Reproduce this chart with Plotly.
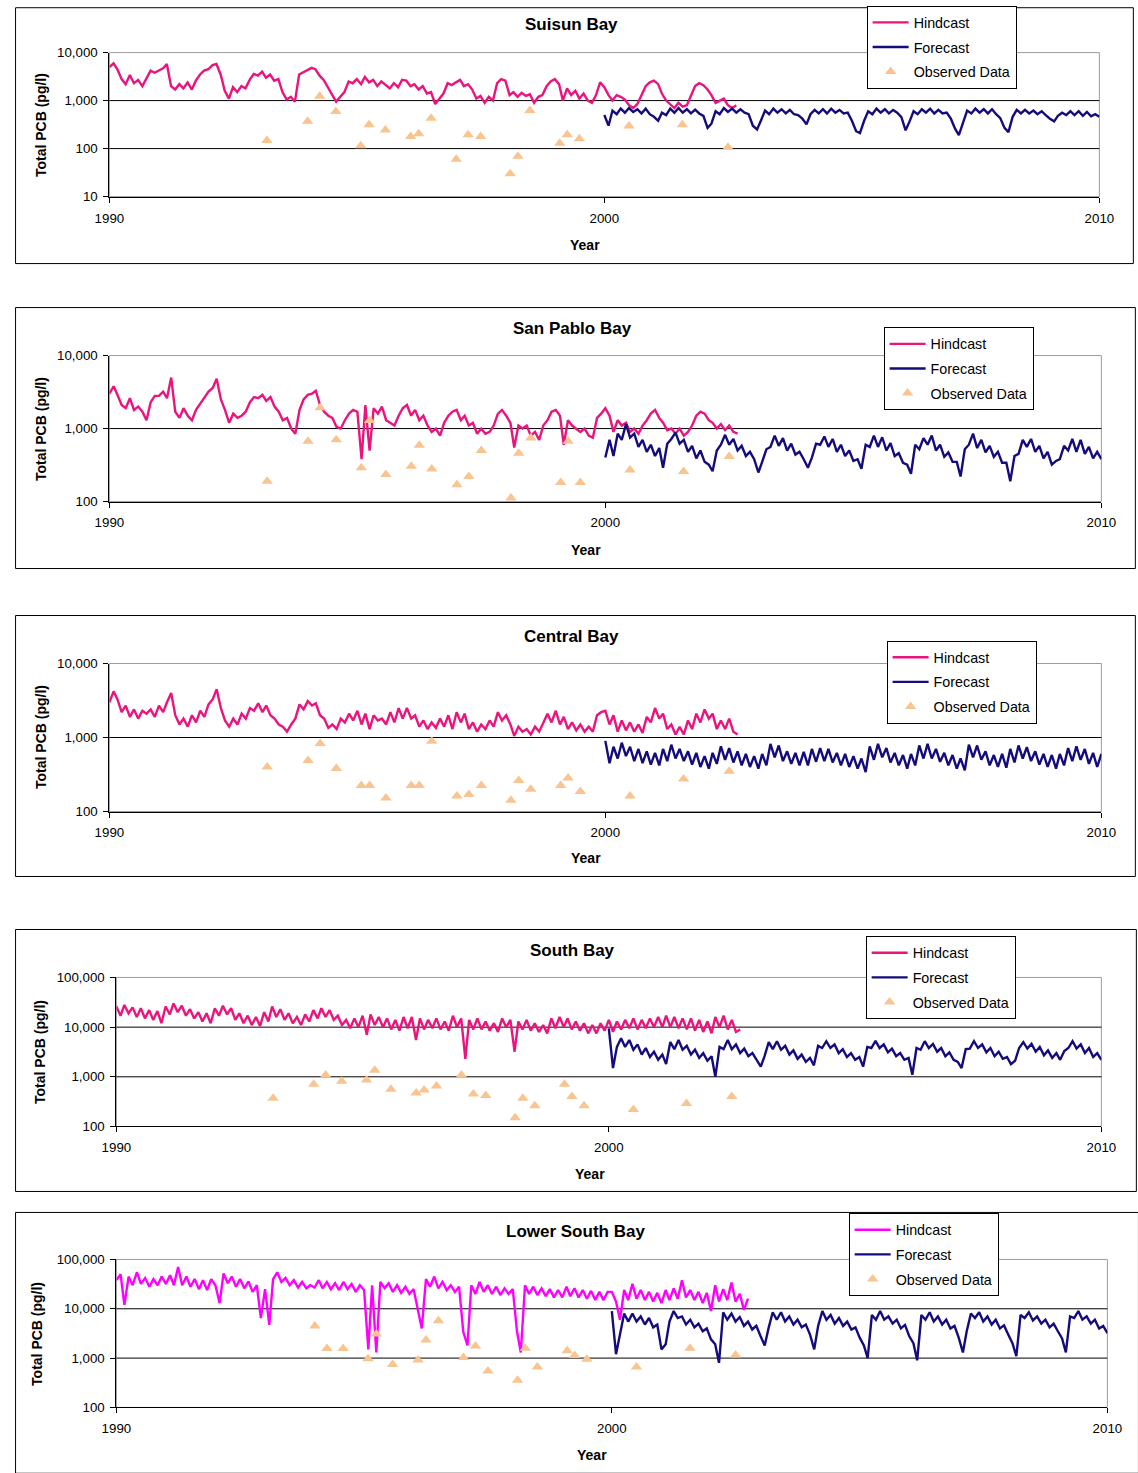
import pandas as pd
import plotly.graph_objects as go

# ------------------------------------------------------------------ data
year_ticks = ["1990", "2000", "2010"]
ytick_vals_low = [10, 100, 1000, 10000]
ytick_text_low = ["10", "100", "1,000", "10,000"]
ytick_vals_mid = [100, 1000, 10000]
ytick_text_mid = ["100", "1,000", "10,000"]
ytick_vals_high = [100, 1000, 10000, 100000]
ytick_text_high = ["100", "1,000", "10,000", "100,000"]

# sampling cruises (observed data)
obs_dates = ["1993-03-08", "1994-01-03", "1994-04-02", "1994-07-30", "1995-01-30",
             "1995-04-01", "1995-07-30", "1996-02-02", "1996-04-01", "1996-07-02",
             "1997-01-03", "1997-04-01", "1997-07-02", "1998-02-05", "1998-04-03",
             "1998-07-01", "1999-02-06", "1999-04-02", "1999-07-01", "2000-07-01",
             "2001-07-30", "2002-07-01"]

# monthly hindcast values (pg/l), starting January 1990
suisun_hindcast = [
    5000, 6000, 4500, 2800, 2200, 3400, 2300, 2700, 2000, 3000, 4200, 3800,
    4200, 4700, 5800, 2000, 1700, 2200, 1800, 2400, 1700, 2600, 3500, 4200,
    4500, 5500, 5800, 3500, 1600, 1100, 1900, 1500, 2000, 1800, 2700, 3600,
    3300, 4000, 3000, 3500, 2600, 2800, 1500, 1050, 1200, 950, 3500, 3900,
    4400, 4800, 4500, 3300, 2700, 1900, 1300, 950, 1200, 1500, 2500, 2300,
    2800, 2200, 3100, 2400, 2700, 2000, 2500, 2100, 1800, 2300, 1900, 2700,
    2600, 2000, 2200, 1700, 2000, 1400, 1500, 850, 1100, 1400, 2300, 2100,
    2400, 2700, 2000, 2200, 1700, 1100, 1250, 900, 1200, 1000, 2300, 2800,
    2600, 1300, 1500, 1200, 1450, 1250, 1350, 900, 1200, 1300, 2000, 2500,
    2800, 2200, 1000, 1800, 1300, 1600, 1100, 1400, 1000, 900, 1300, 2400,
    1900, 1300, 1000, 1300, 1200, 1050, 800, 700, 850, 1300, 2000, 2400,
    2600, 2200, 1400, 1000, 850, 700, 900, 750, 800, 1300, 2000, 2300,
    2100, 1700, 1300, 900, 1000, 1100, 800, 700, 800]
# monthly forecast values (pg/l), January 2000 - January 2010
suisun_forecast = [
    500, 300, 620, 520, 680, 560, 700, 580, 660, 540, 680, 520,
    460, 380, 560, 500, 680, 560, 700, 560, 660, 540, 650, 540,
    480, 270, 330, 600, 520, 700, 580, 680, 560, 660, 560, 520,
    300, 250, 380, 620, 520, 680, 560, 660, 540, 640, 520, 500,
    420, 320, 520, 640, 540, 660, 540, 680, 560, 640, 540, 560,
    380, 230, 210, 380, 600, 520, 680, 560, 660, 540, 640, 560,
    450, 240, 360, 600, 520, 660, 560, 680, 540, 640, 540, 560,
    420, 260, 190, 330, 620, 540, 680, 560, 660, 540, 660, 520,
    430, 270, 220, 460, 640, 540, 640, 540, 620, 520, 600, 500,
    420, 370, 480, 560, 500, 600, 500, 600, 480, 580, 470, 520,
    460]
suisun_observed = [147, 370, 1230, 590, 115, 315, 245, 178, 203, 430, 60, 193,
                   178, 30, 69, 620, 129, 193, 160, 294, 315, 107]

sanpablo_hindcast = [
    3000, 3800, 2900, 2100, 1900, 2600, 1800, 2000, 1700, 1300, 2300, 2800,
    2800, 3200, 2600, 5000, 1700, 1400, 1900, 1500, 1300, 1800, 2200, 2600,
    3200, 3600, 4800, 2500, 1800, 1200, 1600, 1400, 1500, 1700, 2300, 2700,
    2600, 2900, 2400, 2700, 2000, 1700, 1300, 1400, 1000, 850, 1800, 2500,
    2900, 3000, 3300, 2100, 1700, 1500, 1400, 1050, 1000, 1300, 1600, 1800,
    1700, 380, 2100, 500, 1900, 1600, 2000, 1300, 1200, 1100, 1500, 1900,
    2100, 1500, 1800, 1300, 1500, 1100, 900, 1000, 800, 1200, 1500, 1700,
    1800, 1300, 1500, 1100, 1200, 850, 1000, 850, 900, 1100, 1600, 1800,
    1500, 1200, 550, 1100, 1000, 1100, 800, 900, 700, 1100, 1300, 1700,
    1800, 1500, 600, 1300, 1100, 1000, 900, 1000, 800, 750, 1400, 1600,
    1900, 1500, 900, 1300, 1100, 1200, 900, 1000, 850, 1100, 1300, 1600,
    1800, 1400, 1200, 950, 1000, 850, 1000, 800, 900, 1100, 1500, 1700,
    1600, 1300, 1200, 1000, 1150, 950, 1100, 900, 850]
sanpablo_forecast = [
    400, 700, 420, 850, 700, 1150, 750, 850, 560, 700, 480, 600,
    420, 540, 290, 620, 720, 880, 620, 700, 480, 580, 390, 500,
    350, 320, 260, 500, 600, 820, 600, 720, 500, 580, 420, 480,
    380, 250, 350, 520, 560, 800, 580, 740, 500, 620, 440, 480,
    380, 290, 400, 620, 600, 780, 560, 720, 480, 600, 420, 500,
    360, 380, 280, 600, 560, 800, 560, 760, 500, 630, 420, 460,
    340, 320, 240, 600, 520, 740, 600, 800, 500, 600, 410, 470,
    350, 350, 220, 520, 600, 850, 540, 700, 470, 580, 410, 480,
    340, 340, 190, 420, 450, 700, 560, 720, 480, 580, 390, 480,
    320, 360, 380, 580, 500, 720, 480, 700, 450, 560, 390, 480,
    380]
sanpablo_observed = [190, 670, 1920, 700, 290, 1290, 234, 305, 590, 280, 170, 220,
                     500, 112, 460, 740, 183, 670, 183, 270, 257, 415]

central_hindcast = [
    3000, 4200, 3300, 2200, 2700, 1900, 2400, 1800, 2300, 2100, 2400, 1900,
    2700, 2200, 3000, 4000, 2000, 1500, 1800, 1400, 2000, 1600, 2300, 1900,
    2800, 3300, 4500, 2500, 1700, 1400, 1800, 1500, 2100, 1800, 2500, 2300,
    2900, 2200, 2700, 2000, 1800, 1500, 1400, 1200, 1500, 1800, 2800, 2400,
    3100, 2700, 2900, 2000, 1800, 1350, 1500, 1300, 1800, 1600, 2100, 1700,
    2300, 1500, 2100, 1300, 2000, 1700, 1800, 1500, 2200, 1600, 2500, 1800,
    2500, 1800, 2000, 1400, 1700, 1300, 1600, 1350, 1800, 1400, 2000, 1300,
    2200, 1600, 2100, 1300, 1600, 1200, 1500, 1300, 1700, 1400, 2200, 1700,
    2000, 1500, 1050, 1400, 1200, 1300, 1100, 1400, 1200, 1600, 2100, 1600,
    2300, 1500, 1900, 1300, 1600, 1250, 1500, 1200, 1400, 1200, 2000, 2200,
    2300, 1500, 2000, 1200, 1700, 1250, 1600, 1200, 1500, 1150, 1900, 1600,
    2500, 1800, 2100, 1300, 1500, 1100, 1400, 1100, 1700, 1300, 2100, 1600,
    2400, 1800, 2100, 1300, 1700, 1300, 1800, 1200, 1100]
central_forecast = [
    900, 450, 750, 520, 850, 560, 750, 480, 700, 450, 650, 430,
    620, 420, 700, 480, 800, 520, 700, 480, 650, 430, 620, 400,
    560, 380, 620, 440, 760, 500, 720, 460, 650, 420, 600, 400,
    560, 380, 600, 420, 820, 540, 780, 480, 650, 440, 620, 420,
    640, 420, 700, 470, 720, 480, 700, 460, 620, 420, 600, 400,
    560, 380, 520, 340, 760, 500, 820, 540, 720, 460, 620, 420,
    580, 380, 600, 420, 780, 520, 820, 520, 700, 470, 620, 420,
    580, 380, 520, 360, 800, 540, 780, 500, 650, 420, 580, 400,
    600, 390, 700, 460, 780, 520, 740, 480, 650, 430, 600, 400,
    580, 380, 600, 420, 720, 480, 760, 500, 700, 440, 620, 400,
    600]
central_observed = [400, 490, 830, 380, 225, 225, 152, 225, 225, 890, 162, 170,
                    225, 142, 263, 200, 225, 283, 186, 162, 276, 350]

south_hindcast = [
    26000, 17000, 28000, 19000, 25000, 16000, 24000, 15000, 22000, 14000, 21000, 12000,
    26000, 18000, 30000, 20000, 27000, 17000, 23000, 15000, 20000, 13000, 19000, 12000,
    24000, 17000, 27000, 18000, 24000, 14000, 19000, 12000, 17000, 11000, 16000, 10500,
    20000, 13000, 26000, 16000, 23000, 14000, 19000, 12000, 16000, 11000, 18000, 13000,
    22000, 15000, 24000, 16000, 22000, 14000, 17000, 11000, 14000, 9500, 15000, 10000,
    17000, 7000, 18000, 11000, 16000, 10000, 15000, 9000, 14000, 8500, 16000, 9500,
    16000, 5500, 15000, 9000, 14000, 9500, 15000, 9000, 13000, 8500, 17000, 10000,
    15000, 2300, 14000, 9000, 15000, 9000, 13000, 8500, 12000, 8000, 15000, 10000,
    14000, 3200, 13000, 9000, 14000, 8500, 12000, 8000, 11000, 7500, 15000, 9500,
    16000, 10000, 15000, 9000, 13000, 8500, 12000, 7500, 11000, 7500, 12000, 8500,
    14000, 8000, 13000, 9000, 14000, 9500, 15000, 9000, 14000, 9500, 15000, 10000,
    16000, 10000, 17000, 10000, 16000, 9500, 15000, 9000, 15000, 8500, 14000, 8000,
    13000, 7500, 16000, 10000, 17000, 9000, 14000, 8000, 9000]
south_forecast = [
    9500, 1500, 4000, 6000, 4000, 5500, 3500, 4500, 2800, 3800, 2500, 3200,
    2200, 2800, 1800, 5000, 3600, 5500, 3500, 4200, 2800, 3500, 2400, 3000,
    2100, 2600, 1000, 4000, 3600, 5500, 3600, 4500, 3000, 3700, 2600, 3000,
    2200, 1600, 2600, 5000, 3600, 5200, 3500, 4200, 2800, 3400, 2300, 2800,
    2000, 2400, 1700, 4200, 3800, 5200, 3800, 4500, 3000, 3600, 2500, 3000,
    2200, 2500, 1600, 4000, 3800, 5300, 3800, 4500, 3100, 3700, 2600, 3000,
    2200, 2400, 1100, 3800, 3500, 5200, 3800, 4600, 3200, 3800, 2600, 3100,
    2200, 2000, 1500, 3600, 3700, 5200, 3800, 4500, 3100, 3800, 2600, 3200,
    2300, 2500, 1800, 2100, 3800, 5000, 3700, 4600, 3200, 4000, 2700, 3400,
    2400, 3000, 2200, 3300, 3800, 5200, 3700, 4500, 3000, 3800, 2500, 3000,
    2200]
south_observed = [370, 710, 1090, 810, 860, 1350, 560, 470, 540, 650, 1090, 450,
                  420, 150, 370, 260, 710, 400, 260, 220, 290, 400]

lowersouth_hindcast = [
    38000, 50000, 12000, 45000, 30000, 55000, 32000, 42000, 28000, 40000, 30000, 45000,
    32000, 48000, 30000, 70000, 30000, 45000, 28000, 40000, 25000, 38000, 24000, 40000,
    30000, 13000, 52000, 33000, 45000, 28000, 40000, 26000, 36000, 22000, 30000, 6500,
    25000, 4700, 40000, 55000, 35000, 42000, 30000, 38000, 27000, 35000, 26000, 30000,
    27000, 38000, 26000, 35000, 25000, 33000, 24000, 35000, 25000, 32000, 22000, 30000,
    24000, 1500, 30000, 1300, 35000, 26000, 33000, 22000, 30000, 21000, 28000, 20000,
    25000, 9000, 4000, 40000, 28000, 45000, 26000, 35000, 24000, 30000, 22000, 28000,
    3400, 1800, 30000, 20000, 35000, 22000, 30000, 20000, 28000, 19000, 26000, 20000,
    25000, 3500, 1300, 30000, 20000, 28000, 19000, 26000, 18000, 25000, 17000, 24000,
    17000, 28000, 18000, 26000, 17000, 24000, 16000, 23000, 15000, 22000, 15000, 22000,
    22000, 14000, 6000, 24000, 15000, 32000, 16000, 24000, 15000, 22000, 14000, 21000,
    13000, 24000, 15000, 26000, 16000, 38000, 17000, 24000, 15000, 22000, 13000, 21000,
    9000, 30000, 14000, 25000, 15000, 34000, 14000, 20000, 9500, 16000]
lowersouth_forecast = [
    9000, 1200, 3000, 8000, 5500, 8000, 5500, 7000, 4800, 6500, 4200, 4800,
    1500, 1900, 5500, 9000, 6500, 7000, 4800, 6000, 4200, 5000, 3500, 4000,
    2400, 1900, 800, 8500, 6000, 8000, 5500, 6800, 4500, 5500, 3800, 4500,
    2800, 1800, 4000, 8500, 6000, 8500, 5500, 7000, 4800, 6000, 4200, 4800,
    3000, 1500, 4500, 9000, 6000, 7500, 5000, 6500, 4500, 5500, 3800, 4200,
    2600, 1800, 1000, 7500, 6000, 9000, 6000, 7000, 5000, 6000, 4000, 4700,
    2800, 2000, 900, 7500, 6000, 8500, 5500, 7000, 4800, 6000, 4000, 4500,
    2600, 1300, 3500, 8000, 6500, 8500, 5500, 7000, 4800, 6000, 4000, 4600,
    3000, 2000, 1100, 7500, 6500, 8500, 5800, 7000, 5000, 6000, 4200, 5000,
    3500, 2500, 1300, 7000, 6500, 9000, 6000, 7000, 5000, 6000, 4000, 4500,
    3200]
lowersouth_observed = [None, 4460, 1570, 1570, 970, 3070, 740, 910, 2320, 5700, 1030,
                       1750, 550, 355, 1590, 660, 1410, 1130, 950, 660, 1590, 1150]

# ------------------------------------------------------------------ styling / layout
# figure canvas and its placement on the photographed page (measured)
FW, FH = 1154, 1482
OX, OY = 13.5, 6.4
SX, SY = 0.975, 0.99
FONT = "Liberation Sans, Arial, sans-serif"
PINK = "#EB147D"
MAGENTA = "#FF00FF"
NAVY = "#140C7C"
PEACH = "#F9C48F"
LW = 2.4


def fx(p):
    return min(max(((p - OX) / SX) / FW, 0.0005), 0.9995)


def fy(p):
    return min(max(1 - ((p - OY) / SY) / FH, 0.0005), 0.9995)


panels = [
    dict(title="Suisun Bay", hind=suisun_hindcast, fore=suisun_forecast, obs=suisun_observed,
         hcolor=PINK, plot=(108, 52, 1099, 196), yr=(1, 4), tv=ytick_vals_low, tt=ytick_text_low,
         frame=(7, 3, 1133, 263), title_xy=(571, 24), legend_xy=(866, 46.5),
         ytitle_xy=(39, 124), xtitle_xy=(584, 244)),
    dict(title="San Pablo Bay", hind=sanpablo_hindcast, fore=sanpablo_forecast, obs=sanpablo_observed,
         hcolor=PINK, plot=(108, 355, 1101, 501), yr=(2, 4), tv=ytick_vals_mid, tt=ytick_text_mid,
         frame=(7, 307, 1135, 568), title_xy=(572, 328), legend_xy=(883, 368),
         ytitle_xy=(39, 428), xtitle_xy=(585, 549)),
    dict(title="Central Bay", hind=central_hindcast, fore=central_forecast, obs=central_observed,
         hcolor=PINK, plot=(108, 663, 1101, 811), yr=(2, 4), tv=ytick_vals_mid, tt=ytick_text_mid,
         frame=(7, 615, 1135, 876), title_xy=(571, 636), legend_xy=(886, 681.5),
         ytitle_xy=(39, 736), xtitle_xy=(585, 858)),
    dict(title="South Bay", hind=south_hindcast, fore=south_forecast, obs=south_observed,
         hcolor=PINK, plot=(115, 977, 1101, 1126), yr=(2, 5), tv=ytick_vals_high, tt=ytick_text_high,
         frame=(6, 929, 1136, 1191), title_xy=(572, 950), legend_xy=(865, 977),
         ytitle_xy=(39, 1051), xtitle_xy=(589, 1174)),
    dict(title="Lower South Bay", hind=lowersouth_hindcast, fore=lowersouth_forecast, obs=lowersouth_observed,
         hcolor=MAGENTA, plot=(115, 1259, 1107, 1407), yr=(2, 5), tv=ytick_vals_high, tt=ytick_text_high,
         frame=(4, 1212, 1140, 1480), title_xy=(575, 1231), legend_xy=(848, 1254),
         ytitle_xy=(36, 1333), xtitle_xy=(591, 1455)),
]

fig = go.Figure()
shapes, annotations = [], []
layout = dict(
    width=FW, height=FH, margin=dict(l=0, r=0, t=0, b=0, pad=0),
    paper_bgcolor="white", plot_bgcolor="white",
    font=dict(family=FONT, size=13, color="black"),
)

year_dates = [f"{y}-01-01" for y in year_ticks]

for i, p in enumerate(panels, start=1):
    suffix = "" if i == 1 else str(i)
    xa, ya = f"x{suffix}", f"y{suffix}"
    leg = f"legend{suffix}"
    hind_x = pd.date_range("1990-01-01", periods=len(p["hind"]), freq="MS")
    fore_x = pd.date_range("2000-01-01", periods=len(p["fore"]), freq="MS")

    fig.add_trace(go.Scatter(x=hind_x, y=p["hind"], mode="lines", name="Hindcast",
                             line=dict(color=p["hcolor"], width=LW), xaxis=xa, yaxis=ya,
                             legend=leg, legendgroup=f"h{i}"))
    fig.add_trace(go.Scatter(x=fore_x, y=p["fore"], mode="lines", name="Forecast",
                             line=dict(color=NAVY, width=LW), xaxis=xa, yaxis=ya,
                             legend=leg, legendgroup=f"f{i}"))
    fig.add_trace(go.Scatter(x=pd.to_datetime(obs_dates), y=p["obs"], mode="markers",
                             name="Observed Data",
                             marker=dict(symbol="triangle-up", size=10, color=PEACH),
                             xaxis=xa, yaxis=ya, legend=leg, legendgroup=f"o{i}"))

    x0, y0, x1, y1 = p["plot"]
    layout[f"xaxis{suffix}"] = dict(
        domain=[fx(x0), fx(x1)], anchor=ya, type="date",
        range=["1990-01-01", "2010-01-01"], tickvals=year_dates, ticktext=year_ticks,
        showgrid=False, zeroline=False, showline=True, linecolor="black", linewidth=1,
        ticks="outside", ticklen=5, tickcolor="black", tickfont=dict(size=13.3, family=FONT),
        ticklabelstandoff=4, fixedrange=True,
    )
    layout[f"yaxis{suffix}"] = dict(
        domain=[fy(y1), fy(y0)], anchor=xa, type="log", range=list(p["yr"]),
        tickvals=p["tv"], ticktext=p["tt"], showgrid=False, zeroline=False,
        showline=True, linecolor="black", linewidth=1, ticks="outside", ticklen=5,
        tickcolor="black", tickfont=dict(size=13.3, family=FONT), ticklabelstandoff=3,
        fixedrange=True,
    )

    # plot-area border (grey) and black gridlines at interior decades
    shapes.append(dict(type="rect", xref=f"{xa} domain", yref=f"{ya} domain", x0=0, x1=1,
                       y0=0, y1=1, line=dict(color="#9C9C9C", width=1), layer="below"))
    for v in p["tv"][1:-1]:
        shapes.append(dict(type="line", xref=f"{xa} domain", yref=ya, x0=0, x1=1, y0=v, y1=v,
                           line=dict(color="black", width=1), layer="below"))
    # outer chart frame
    fx0, fy0, fx1, fy1 = p["frame"]
    shapes.append(dict(type="rect", xref="paper", yref="paper", x0=fx(fx0), x1=fx(fx1),
                       y0=fy(fy1), y1=fy(fy0), line=dict(color="black", width=1)))

    annotations.append(dict(text=f"<b>{p['title']}</b>", x=fx(p["title_xy"][0]), y=fy(p["title_xy"][1]),
                            xref="paper", yref="paper", showarrow=False, xanchor="center",
                            yanchor="middle", font=dict(size=17, family=FONT)))
    annotations.append(dict(text="<b>Total PCB (pg/l)</b>", x=fx(p["ytitle_xy"][0]), y=fy(p["ytitle_xy"][1]),
                            xref="paper", yref="paper", showarrow=False, textangle=-90,
                            xanchor="center", yanchor="middle", font=dict(size=14, family=FONT)))
    annotations.append(dict(text="<b>Year</b>", x=fx(p["xtitle_xy"][0]), y=fy(p["xtitle_xy"][1]),
                            xref="paper", yref="paper", showarrow=False, xanchor="center",
                            yanchor="middle", font=dict(size=14, family=FONT)))

    layout[leg] = dict(x=fx(p["legend_xy"][0]), y=fy(p["legend_xy"][1]), xanchor="left", yanchor="middle",
                       bgcolor="white", bordercolor="black", borderwidth=1,
                       font=dict(size=14.3, family=FONT), traceorder="grouped", tracegroupgap=3,
                       itemwidth=36)

layout["shapes"] = shapes
layout["annotations"] = annotations
fig.update_layout(**layout)

fig.write_html("out.html")
